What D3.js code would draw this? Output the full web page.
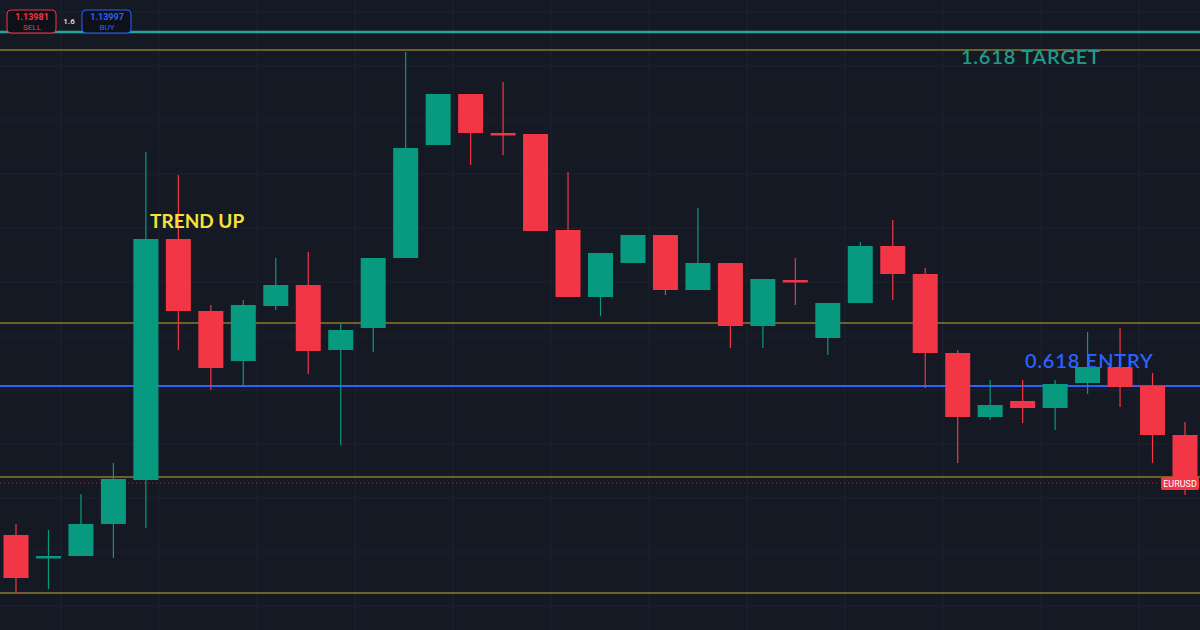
<!DOCTYPE html>
<html><head><meta charset="utf-8">
<script src="https://cdn.jsdelivr.net/npm/d3@7"></script>
<style>html,body{margin:0;padding:0;background:#151924;overflow:hidden}</style>
</head><body><svg id="c" width="1200" height="630"></svg>
<script>
// prices (EURUSD), index = bar number
const opens  = [1.13255,1.13150,1.13150,1.13310,1.13530,1.14735,1.14375,1.14125,1.14400,1.14505,1.14180,1.14290,1.14640,1.15205,1.15460,1.15265,1.15260,1.14780,1.14445,1.14615,1.14755,1.14480,1.14615,1.14300,1.14530,1.14240,1.14415,1.14700,1.14560,1.14165,1.13845,1.13925,1.13890,1.14015,1.14095,1.14000,1.13755];
const closes = [1.13040,1.13150,1.13310,1.13535,1.14735,1.14375,1.14090,1.14405,1.14505,1.14175,1.14280,1.14640,1.15190,1.15460,1.15265,1.15260,1.14775,1.14445,1.14665,1.14755,1.14480,1.14615,1.14300,1.14535,1.14525,1.14415,1.14700,1.14560,1.14165,1.13845,1.13905,1.13890,1.14010,1.14095,1.13995,1.13755,1.13480];
const highs  = [1.13310,1.13280,1.13460,1.13615,1.15170,1.15055,1.14405,1.14430,1.14640,1.14670,1.14315,1.14640,1.15670,1.15460,1.15460,1.15520,1.15260,1.15070,1.14665,1.14755,1.14755,1.14890,1.14615,1.14535,1.14640,1.14415,1.14720,1.14830,1.14590,1.14180,1.14030,1.14030,1.14030,1.14270,1.14290,1.14065,1.13820];
const lows   = [1.12965,1.12985,1.13150,1.13140,1.13290,1.14180,1.13980,1.14005,1.14380,1.14060,1.13705,1.14170,1.14640,1.15205,1.15105,1.15155,1.14775,1.14445,1.14350,1.14615,1.14455,1.14480,1.14190,1.14190,1.14405,1.14155,1.14415,1.14430,1.13990,1.13615,1.13830,1.13815,1.13780,1.13960,1.13895,1.13615,1.13455];
const levels = [{p:1.15680,c:"#c8a82a",w:1},{p:1.14315,c:"#c8a82a",w:1},{p:1.13545,c:"#c8a82a",w:1},{p:1.12965,c:"#c8a82a",w:1},{p:1.14000,c:"#2962ff",w:2},{p:1.15770,c:"#26a69a",w:2.5}];
const labels = [{t:"1.618 TARGET",i:29.1,p:1.15610,c:"#1f9d84",s:20,wt:"600",ls:0.8},{t:"TREND UP",i:4.13,p:1.14790,c:"#f5e33b",s:19,wt:"bold",ls:0},{t:"0.618 ENTRY",i:31.07,p:1.14090,c:"#2962ff",s:20,wt:"600",ls:0.8}];
const lastPrice = 1.13515;

const W=1200,H=630;
const svg=d3.select("#c");
const x=d3.scaleLinear().domain([0,36]).range([16,1185]);
const y=d3.scaleLinear().domain([1.1278,1.1593]).range([630,0]);
const idx=d3.range(opens.length);
// grid
svg.append("g").selectAll("line").data(d3.range(-20,1300,98)).join("line")
 .attr("x1",d=>d+81).attr("x2",d=>d+81).attr("y1",0).attr("y2",H).attr("stroke","#1f2330");
svg.append("g").selectAll("line").data(d3.range(1.1290,1.1593,0.0027)).join("line")
 .attr("x1",0).attr("x2",W).attr("y1",d=>y(d)).attr("y2",d=>y(d)).attr("stroke","#1f2330");
// levels
svg.append("g").selectAll("line").data(levels).join("line")
 .attr("x1",0).attr("x2",W).attr("y1",d=>y(d.p)).attr("y2",d=>y(d.p)).attr("stroke",d=>d.c).attr("stroke-width",d=>d.w);
svg.append("line").attr("x1",0).attr("x2",1160).attr("y1",y(lastPrice)).attr("y2",y(lastPrice))
 .attr("stroke","#f23645").attr("stroke-dasharray","1,3").attr("opacity",0.7);
// candles
const col=i=>closes[i]>=opens[i]?"#089981":"#f23645";
const g=svg.append("g");
g.selectAll("line").data(idx).join("line").attr("x1",i=>x(i)).attr("x2",i=>x(i))
 .attr("y1",i=>y(highs[i])).attr("y2",i=>y(lows[i])).attr("stroke",col).attr("stroke-width",1.2);
g.selectAll("rect").data(idx).join("rect").attr("x",i=>x(i)-12.5).attr("width",25)
 .attr("y",i=>y(Math.max(opens[i],closes[i]))).attr("height",i=>Math.max(2.5,Math.abs(y(opens[i])-y(closes[i])))).attr("fill",col);
// labels
svg.append("g").selectAll("text").data(labels).join("text").attr("x",d=>x(d.i)).attr("y",d=>y(d.p))
 .attr("fill",d=>d.c).attr("font-size",d=>d.s).attr("font-weight",d=>d.wt).attr("letter-spacing",d=>d.ls).attr("font-family","Lato, Roboto, sans-serif").text(d=>d.t);
// price tag
svg.append("rect").attr("x",1161).attr("y",y(lastPrice)-6).attr("width",38).attr("height",13).attr("rx",2).attr("fill","#f23645");
svg.append("text").attr("x",1180).attr("y",y(lastPrice)+4).attr("text-anchor","middle").attr("fill","#fff").attr("font-size",9).attr("font-family","Roboto, sans-serif").text("EURUSD");
// top buttons
const btn=[{x:7,c:"#f23645",v:"1.13981",s:"SELL"},{x:82,c:"#2962ff",v:"1.13997",s:"BUY"}];
const bg=svg.append("g").selectAll("g").data(btn).join("g");
bg.append("rect").attr("x",d=>d.x).attr("y",10).attr("width",49).attr("height",23).attr("rx",4).attr("fill","#0e1118").attr("stroke",d=>d.c);
bg.append("text").attr("x",d=>d.x+25).attr("y",20).attr("text-anchor","middle").attr("fill",d=>d.c).attr("font-size",9).attr("font-weight","bold").attr("font-family","Roboto, sans-serif").text(d=>d.v);
bg.append("text").attr("x",d=>d.x+25).attr("y",30).attr("text-anchor","middle").attr("fill",d=>d.c).attr("font-size",8).attr("font-family","Roboto, sans-serif").text(d=>d.s);
svg.append("text").attr("x",69).attr("y",24).attr("text-anchor","middle").attr("fill","#d1d4dc").attr("font-size",8).attr("font-weight","bold").attr("font-family","Roboto, sans-serif").text("1.6");
</script></body></html>
